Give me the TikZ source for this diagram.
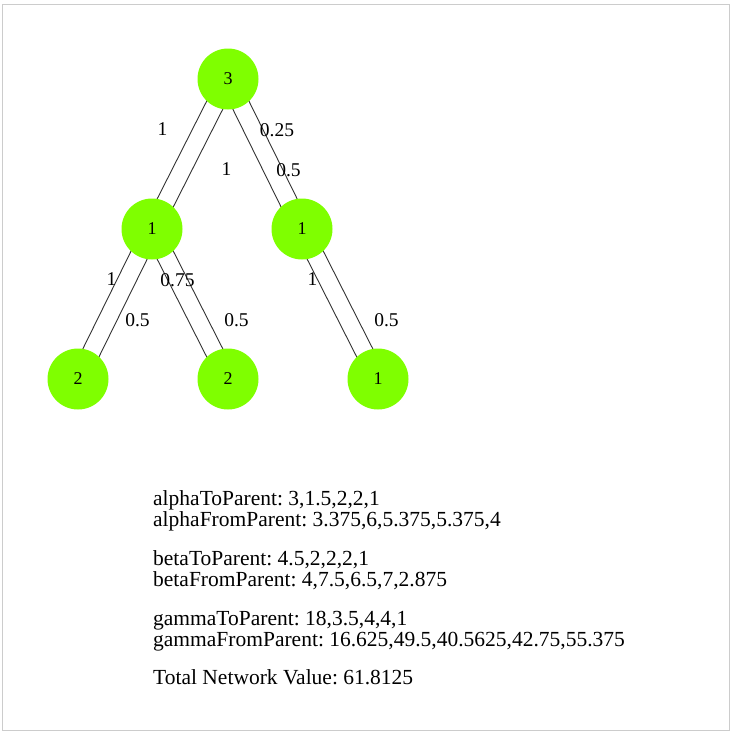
\documentclass[tikz,border=0pt]{standalone}
\usepackage{fontspec}
\setmainfont{Liberation Serif}
\frenchspacing
\usetikzlibrary{calc,backgrounds}
\definecolor{leaf}{HTML}{7FFF00}
\definecolor{framegray}{HTML}{CCCCCC}
\definecolor{linkgray}{HTML}{333333}
\tikzset{
  vertex/.style={circle,fill=leaf,minimum size=61pt,inner sep=0pt,font=\fontsize{18}{18}\selectfont},
  wlabel/.style={inner sep=0pt,font=\fontsize{19.5}{19.5}\selectfont},
  link/.style={draw=linkgray,line width=0.9pt},
  stat/.style={anchor=base west,inner sep=0pt,font=\fontsize{21.5}{23}\selectfont},
}
% draw a pair of parallel links between two vertices
\newcommand{\twinlink}[2]{%
  \draw[link] ($(#1)!9pt!90:(#2)$) -- ($(#2)!9pt!-90:(#1)$);
  \draw[link] ($(#1)!9pt!-90:(#2)$) -- ($(#2)!9pt!90:(#1)$);
}
\begin{document}
\begin{tikzpicture}[x=1pt,y=-1pt]
\useasboundingbox (0,0) rectangle (733,736);
\draw[framegray,line width=1pt] (2.5,4.5) rectangle (729,730);

% tree vertices
\node[vertex] (r)  at (228,79)  {3};
\node[vertex] (a)  at (152,229) {1};
\node[vertex] (b)  at (302,229) {1};
\node[vertex] (aa) at (78,379)  {2};
\node[vertex] (ab) at (228,379) {2};
\node[vertex] (ba) at (378,379) {1};

% links, kept behind the vertices
\begin{scope}[on background layer]
  \twinlink{r}{a}
  \twinlink{r}{b}
  \twinlink{a}{aa}
  \twinlink{a}{ab}
  \twinlink{b}{ba}
\end{scope}

% link weights
\node[wlabel] (w1)  at (162.5,129) {1};
\node[wlabel] (w2)  at (226.5,169) {1};
\node[wlabel] (w3)  at (277,130)   {0.25};
\node[wlabel] (w4)  at (288.5,170) {0.5};
\node[wlabel] (w5)  at (111.5,279) {1};
\node[wlabel] (w6)  at (137.5,320) {0.5};
\node[wlabel] (w7)  at (177.5,280) {0.75};
\node[wlabel] (w8)  at (236.5,320) {0.5};
\node[wlabel] (w9)  at (312.5,279) {1};
\node[wlabel] (w10) at (386.5,320) {0.5};

% summary values
\node[stat] (s1) at (153,505) {alphaToParent: 3,1.5,2,2,1};
\node[stat] (s2) at (153,526) {alphaFromParent: 3.375,6,5.375,5.375,4};
\node[stat] (s3) at (153,565) {betaToParent: 4.5,2,2,2,1};
\node[stat] (s4) at (153,586) {betaFromParent: 4,7.5,6.5,7,2.875};
\node[stat] (s5) at (153,625) {gammaToParent: 18,3.5,4,4,1};
\node[stat] (s6) at (153,646) {gammaFromParent: 16.625,49.5,40.5625,42.75,55.375};
\node[stat] (s7) at (153,684) {Total Network Value: 61.8125};
\end{tikzpicture}
\end{document}
